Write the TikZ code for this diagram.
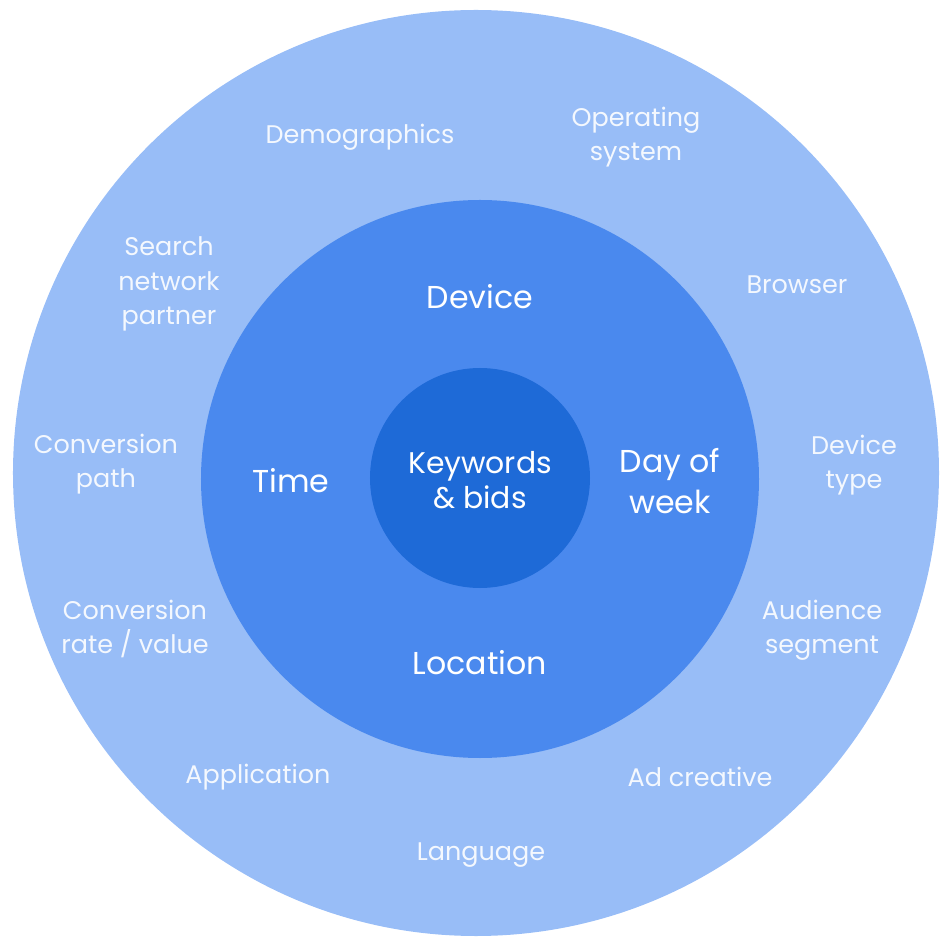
\documentclass[tikz,border=0pt]{standalone}
\usepackage{fontspec}
\usepackage{xcolor}
\setmainfont{Poppins}
\usetikzlibrary{positioning}
\definecolor{cOuter}{HTML}{98BDF7}
\definecolor{cMid}{HTML}{4A89EE}
\definecolor{cCore}{HTML}{1E6AD7}
\definecolor{cText}{HTML}{F4F8FE}

\tikzset{
  outlbl/.style={text=cText, align=center, font=\fontsize{14.5}{19.5}\selectfont},
  midlbl/.style={text=white, align=center, font=\fontsize{18}{23.5}\selectfont},
  corelbl/.style={text=white, align=center, font=\fontsize{17}{20}\selectfont}
}

\begin{document}
\begin{tikzpicture}
      \useasboundingbox (-9.6,-9.34) rectangle (9.2,9.54);
      % rings, outside in
      \fill[cOuter] (-0.08,0.08) circle (9.26);
      \fill[cMid] (0,-0.04) circle (5.58);
      \fill[cCore] (0,-0.02) circle (2.2);
      % core
      \node[corelbl] (kw) at (0,-0.06) {Keywords\\\& bids};
      % middle ring
      \node[midlbl] (device) at (0,3.6) {Device};
      \node[midlbl] (time) at (-3.78,-0.08) {Time};
      \node[midlbl] (dow) at (3.8,-0.08) {Day of\\week};
      \node[midlbl] (loc) at (0,-3.72) {Location};
      % outer ring
      \node[outlbl] (demo) at (-2.4,6.8) {Demographics};
      \node[outlbl] (opsys) at (3.12,6.8) {Operating\\system};
      \node[outlbl] (browser) at (6.34,3.84) {Browser};
      \node[outlbl] (devtype) at (7.48,0.24) {Device\\type};
      \node[outlbl] (aud) at (6.84,-3.06) {Audience\\segment};
      \node[outlbl] (adcr) at (4.4,-6.0) {Ad creative};
      \node[outlbl] (lang) at (0.02,-7.56) {Language};
      \node[outlbl] (app) at (-4.44,-6.0) {Application};
      \node[outlbl] (convrate) at (-6.9,-3.04) {Conversion\\rate / value};
      \node[outlbl] (convpath) at (-7.48,0.26) {Conversion\\path};
      \node[outlbl] (snp) at (-6.22,3.86) {Search\\network\\partner};
    \end{tikzpicture}
\end{document}
